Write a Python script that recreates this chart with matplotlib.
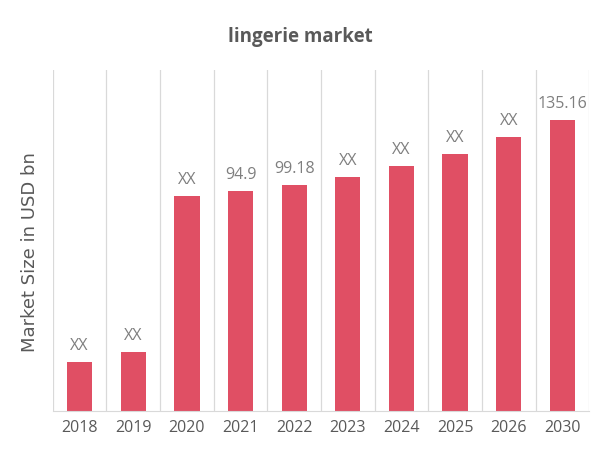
import numpy as np
import matplotlib.pyplot as plt

years = ['2018', '2019', '2020', '2021', '2022', '2023', '2024', '2025', '2026', '2030']
# bar heights (USD bn)
values = [22.0, 26.5, 96.4, 98.6, 101.2, 104.9, 109.7, 115.4, 122.8, 130.7]
value_labels = ['XX', 'XX', 'XX', '94.9', '99.18', 'XX', 'XX', 'XX', 'XX', '135.16']

bar_color = '#E04F64'
grid_color = '#D9D9D9'
text_color = '#595959'

fig = plt.figure(figsize=(6, 4.52), dpi=100)
ax = fig.add_axes([0.088, 0.0896, 0.894, 0.7534])

x = np.arange(len(years))
ax.bar(x, values, width=0.47, color=bar_color, zorder=2)

# vertical separators between categories
for b in np.arange(len(years) + 1) - 0.5:
    ax.axvline(b, color=grid_color, linewidth=0.9, zorder=1)

for i, (v, lab) in enumerate(zip(values, value_labels)):
    ax.text(i, v + 4, lab, ha='center', va='bottom', fontsize=11.5,
            color='#7F7F7F', family='Open Sans')

ax.set_xlim(-0.5, len(years) - 0.5)
ax.set_ylim(0, 153)
ax.set_xticks(x)
ax.set_xticklabels(years, fontsize=11.5, color=text_color, family='Open Sans')
ax.set_yticks([])
ax.tick_params(axis='x', length=0, pad=6)
for s in ['top', 'right', 'left']:
    ax.spines[s].set_visible(False)
ax.spines['bottom'].set_color(grid_color)

ax.set_ylabel('Market Size in USD bn', fontsize=13, color=text_color,
              family='DejaVu Sans')
ax.yaxis.set_label_coords(-0.026, 0.468)

fig.text(0.5, 0.918, 'lingerie market', ha='center', va='center', fontsize=13.5,
         fontweight='bold', color=text_color, family='Open Sans')

fig.savefig('out.png', dpi=100, facecolor='white')
